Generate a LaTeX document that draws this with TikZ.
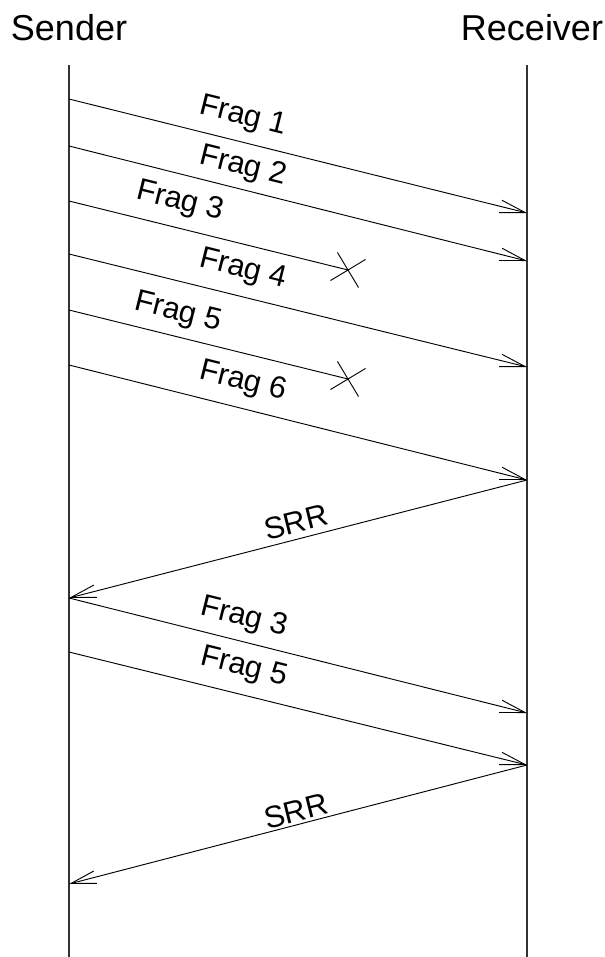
\documentclass[tikz,border=0pt]{standalone}
\usepackage{fontspec}
\setmainfont{Liberation Sans}
\usetikzlibrary{arrows.meta,shapes.misc}

\tikzset{
  lifeline/.style={line width=0.9pt, color=black!80},
  msg/.style={line width=0.7pt, -{Straight Barb[length=19pt,width=9.5pt,line width=0.7pt]}},
  droppedmsg/.style={line width=0.7pt},
  lbl/.style={font=\fontsize{23}{27}\selectfont, inner sep=0pt},
  hdr/.style={font=\fontsize{27}{32}\selectfont, inner sep=0pt},
  lost/.style={cross out, draw, line width=0.7pt, minimum size=21pt, inner sep=0pt, rotate=-14}
}

\begin{document}
\begin{tikzpicture}[x=0.75pt,y=0.75pt,yscale=-1,xscale=1]
\useasboundingbox (0,0) rectangle (605,957);

% Text Node
\node (sender) at (69,27.5) [hdr] {Sender};
% Text Node
\node (receiver) at (532,27.5) [hdr] {Receiver};

%Lifelines
\coordinate (sTop) at (69,65);
\coordinate (sBot) at (69,957);
\coordinate (rTop) at (527,65);
\coordinate (rBot) at (527,957);
\draw [lifeline] (sTop) -- (sBot);
\draw [lifeline] (rTop) -- (rBot);

%Message ends on the sender side
\coordinate (s1) at (69,99);
\coordinate (s2) at (69,146);
\coordinate (s3) at (69,201);
\coordinate (s4) at (69,254);
\coordinate (s5) at (69,310);
\coordinate (s6) at (69,365);
\coordinate (s7) at (69,598);
\coordinate (s8) at (69,652);
\coordinate (s9) at (69,884);
%Message ends on the receiver side
\coordinate (r1) at (527,213);
\coordinate (r2) at (527,261);
\coordinate (r4) at (527,367);
\coordinate (r6) at (527,480);
\coordinate (r7) at (527,713);
\coordinate (r8) at (527,765);

%Lost fragments
\node (x3) at (348,270) [lost] {};
\node (x5) at (348,379) [lost] {};

%Straight Lines
\draw [msg] (s1) -- (r1);
\draw [msg] (s2) -- (r2);
\draw [droppedmsg] (s3) -- (x3.center);
\draw [msg] (s4) -- (r4);
\draw [droppedmsg] (s5) -- (x5.center);
\draw [msg] (s6) -- (r6);
\draw [msg] (r6) -- (s7);
\draw [msg] (s7) -- (r7);
\draw [msg] (s8) -- (r8);
\draw [msg] (r8) -- (s9);

% Text Node
\node (fragA) at (243,117) [lbl, rotate=-14] {Frag 1};
% Text Node
\node (fragB) at (243,167) [lbl, rotate=-14] {Frag 2};
% Text Node
\node (fragC) at (180,202) [lbl, rotate=-14] {Frag 3};
% Text Node
\node (fragD) at (243,270) [lbl, rotate=-14] {Frag 4};
% Text Node
\node (fragE) at (178,313) [lbl, rotate=-14] {Frag 5};
% Text Node
\node (fragF) at (243,382) [lbl, rotate=-14] {Frag 6};
% Text Node
\node (srrA) at (296,522) [lbl, rotate=14] {SRR};
% Text Node
\node (fragCre) at (244,618) [lbl, rotate=-14] {Frag 3};
% Text Node
\node (fragEre) at (244,668) [lbl, rotate=-14] {Frag 5};
% Text Node
\node (srrB) at (296,811) [lbl, rotate=14] {SRR};

\end{tikzpicture}
\end{document}
